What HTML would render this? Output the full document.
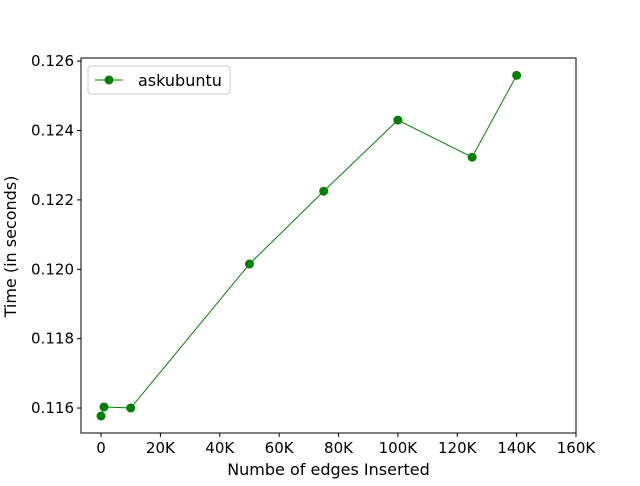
<!DOCTYPE html>
<html><head><meta charset="utf-8"><style>
body{margin:0;background:#fff;}
svg{display:block;font-family:"DejaVu Sans","Liberation Sans",sans-serif;}
</style></head><body>
<svg id="chart" width="640" height="486" xmlns="http://www.w3.org/2000/svg"></svg>
<script>
const xValues=[0,1000,10000,50000,75000,100000,125000,140000];
const yValues=[0.11577,0.11603,0.1160,0.12015,0.12225,0.1243,0.12323,0.12559];
const xTicks=[0,20000,40000,60000,80000,100000,120000,140000,160000];
const xTickLabels=["0","20K","40K","60K","80K","100K","120K","140K","160K"];
const yTicks=[0.116,0.118,0.120,0.122,0.124,0.126];
const yTickLabels=["0.116","0.118","0.120","0.122","0.124","0.126"];
const L=81,R=576,T=58,B=433;
const x0=-6750,x1=160000,y0=0.11528,y1=0.12609;
const sx=v=>L+(v-x0)/(x1-x0)*(R-L);
const sy=v=>B-(v-y0)/(y1-y0)*(B-T);
const svg=document.getElementById('chart');
const NS='http://www.w3.org/2000/svg';
function mk(t,a,txt){const e=document.createElementNS(NS,t);for(const k in a)e.setAttribute(k,a[k]);if(txt!==undefined)e.textContent=txt;svg.appendChild(e);return e;}
let e=mk('rect',{x:L,y:T,width:R-L,height:B-T,fill:'none',stroke:'#000','stroke-width':1});

xTicks.forEach((v,i)=>{const x=sx(v);
 let t=mk('line',{x1:x,x2:x,y1:B,y2:B+4,stroke:'#000'});
 
 let l=mk('text',{x:x,y:B+20,'font-size':15,'text-anchor':'middle'},xTickLabels[i]);
 });
yTicks.forEach((v,i)=>{const y=sy(v);
 let t=mk('line',{x1:L-4,x2:L,y1:y,y2:y,stroke:'#000'});
 
 let l=mk('text',{x:L-7,y:y+5,'font-size':15,'text-anchor':'end'},yTickLabels[i]);
 });
let xt=mk('text',{x:(L+R)/2,y:475,'font-size':16,'text-anchor':'middle'},'Numbe of edges Inserted');

let yt=mk('text',{x:16,y:(T+B)/2+1,'font-size':16,'text-anchor':'middle',transform:`rotate(-90 16 ${(T+B)/2+1})`},'Time (in seconds)');

let pl=mk('polyline',{points:xValues.map((v,i)=>sx(v)+','+sy(yValues[i])).join(' '),fill:'none',stroke:'green','stroke-width':1});

xValues.forEach((v,i)=>{let c=mk('circle',{cx:sx(v),cy:sy(yValues[i]),r:4.5,fill:'green'});
 });
let lg=mk('rect',{x:88,y:66,width:142,height:28,rx:3,fill:'#fff',stroke:'#ccc'});

let ll=mk('line',{x1:95,x2:123,y1:80,y2:80,stroke:'green'});

let lc=mk('circle',{cx:109,cy:80,r:4.5,fill:'green'});

let lt=mk('text',{x:138,y:86,'font-size':16},'askubuntu');

</script></body></html>
